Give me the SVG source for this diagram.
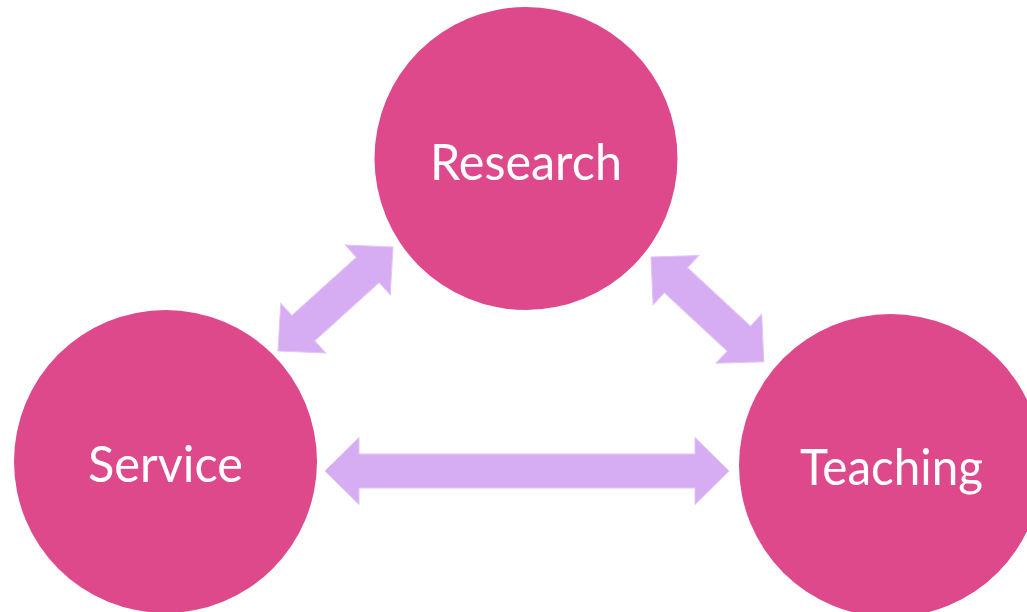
<svg xmlns="http://www.w3.org/2000/svg" width="1027" height="612" viewBox="0 0 1027 612">
<style>
.node{fill:#DE498C}
.lbl{fill:#ffffff;font-family:Lato,"Open Sans","Liberation Sans",sans-serif;font-size:50px;text-anchor:middle}
.arrow{fill:#D6ACF3;stroke:#E2C4F7;stroke-width:1}
</style>
<rect width="1027" height="612" fill="#ffffff"/>
<g id="research"><circle class="node" cx="526" cy="158.5" r="151.5"/><text class="lbl" x="526" y="180" textLength="192" lengthAdjust="spacingAndGlyphs">Research</text></g>
<g id="service"><circle class="node" cx="165.5" cy="461.5" r="151.5"/><text class="lbl" x="165.5" y="482" textLength="155" lengthAdjust="spacingAndGlyphs">Service</text></g>
<g id="teaching"><circle class="node" cx="890.5" cy="465.5" r="151.5"/><text class="lbl" x="891.5" y="485" textLength="183" lengthAdjust="spacingAndGlyphs">Teaching</text></g>
<g id="connectors">
<path class="arrow" transform="translate(325,471)" d="M0,0 L34,-33.5 L34,-17 L370,-17 L370,-33.5 L404,0 L370,33.5 L370,17 L34,17 L34,33.5 Z"/>
<path class="arrow" transform="translate(278,351) rotate(-42.1)" d="M0,0 L34,-33.5 L34,-17 L121,-17 L121,-33.5 L155,0 L121,33.5 L121,17 L34,17 L34,33.5 Z"/>
<path class="arrow" transform="translate(651,257) rotate(42.9)" d="M0,0 L34,-33.5 L34,-17 L120,-17 L120,-33.5 L154,0 L120,33.5 L120,17 L34,17 L34,33.5 Z"/>
</g>
</svg>
